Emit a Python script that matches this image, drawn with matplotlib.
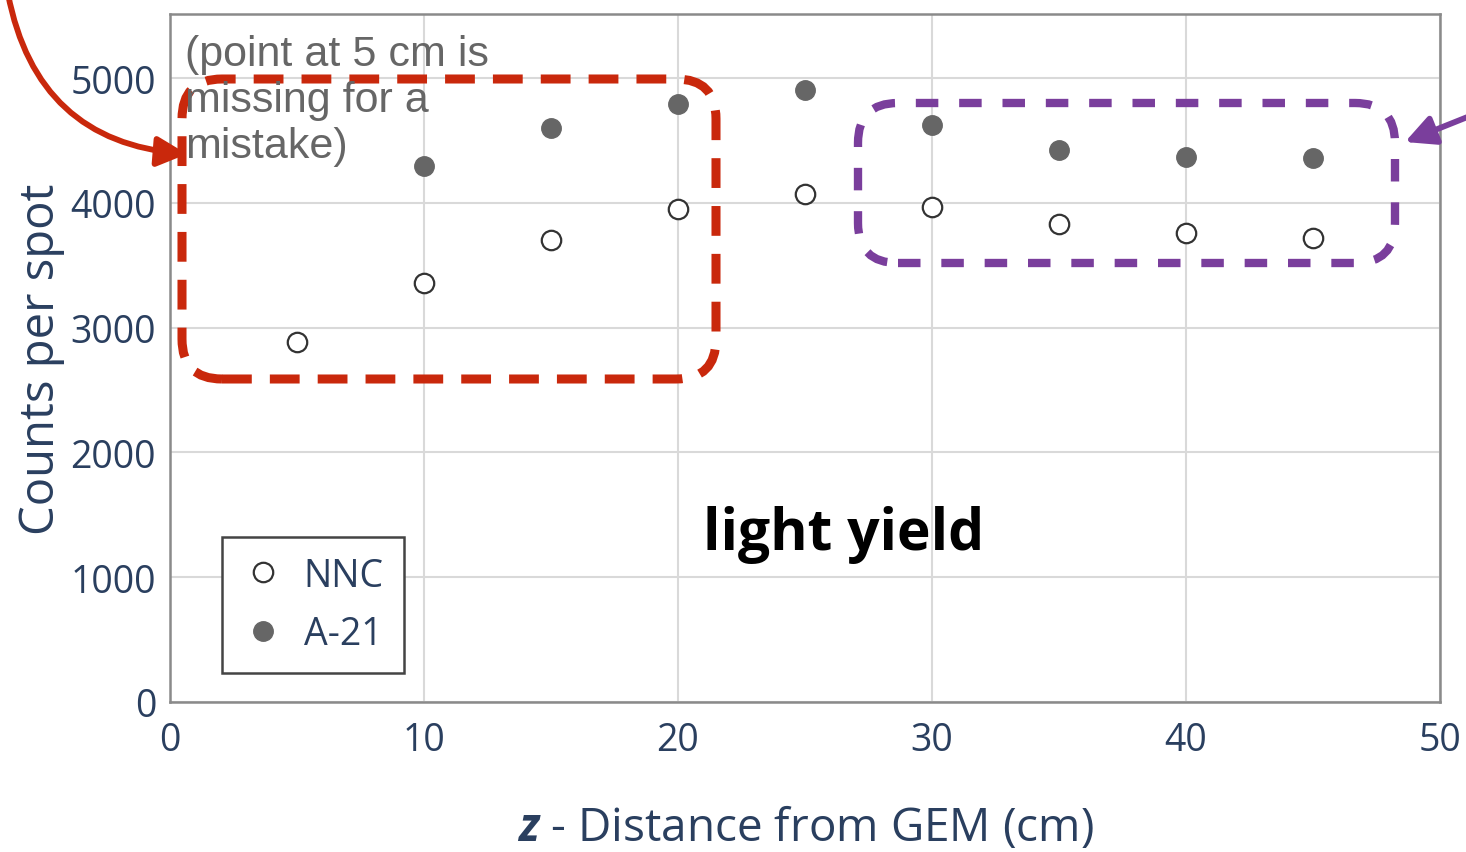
import numpy as np
import matplotlib
matplotlib.use("Agg")
import matplotlib.pyplot as plt
from matplotlib.patches import FancyBboxPatch
from matplotlib.transforms import IdentityTransform

plt.rcParams['font.family'] = ['Open Sans', 'DejaVu Sans']
plt.rcParams['mathtext.fontset'] = 'custom'
plt.rcParams['mathtext.bfit'] = 'Open Sans:italic:bold'
plt.rcParams['mathtext.rm'] = 'Open Sans'

# data
z_nnc = [5, 10, 15, 20, 25, 30, 35, 40, 45]
counts_nnc = [2885, 3357, 3702, 3950, 4071, 3966, 3830, 3758, 3718]
z_a21 = [10, 15, 20, 25, 30, 35, 40, 45]
counts_a21 = [4295, 4599, 4792, 4904, 4623, 4423, 4367, 4359]

xticks = [0, 10, 20, 30, 40, 50]
yticks = [0, 1000, 2000, 3000, 4000, 5000]

txt = '#2a3f5f'
fig = plt.figure(figsize=(14.66, 8.53), dpi=100)
ax = fig.add_axes([170/1466, 1-703/853, 1270/1466, 688/853])
ax.set_xlim(0, 50)
ax.set_ylim(0, 5513)

ax.set_xticks(xticks)
ax.set_yticks(yticks)
ax.grid(True, color='#d9d9d9', lw=1.5)
ax.set_axisbelow(True)
for s in ax.spines.values():
    s.set_color('#8a8a8a')
    s.set_linewidth(1.8)
ax.tick_params(length=0, labelsize=27, labelcolor=txt)
ax.tick_params(axis='x', pad=14)
ax.tick_params(axis='y', pad=10)

ax.plot(z_nnc, counts_nnc, 'o', ms=14, mfc='white', mec='#333333', mew=1.6, label='NNC', zorder=3)
ax.plot(z_a21, counts_a21, 'o', ms=14, mfc='#666666', mec='#666666', label='A-21', zorder=3)

ax.set_xlabel(r'$\mathbfit{z}$ - Distance from GEM (cm)', fontsize=33, color=txt)
ax.xaxis.set_label_coords(0.5, -0.148)
ax.set_ylabel('Counts per spot', fontsize=34, color=txt)
ax.yaxis.set_label_coords(-0.083, 0.5)

leg = ax.legend(loc='lower left', bbox_to_anchor=(0.041, 0.042), fontsize=27,
                fancybox=False, framealpha=1, edgecolor='#444444',
                handletextpad=0.55, borderpad=0.53, labelspacing=0.55,
                handlelength=1.1, borderaxespad=0, labelcolor=txt)
leg.get_frame().set_linewidth(1.8)

ax.text(26.5, 1350, 'light yield', fontsize=41, fontweight='bold', color='black',
        ha='center', va='center', family=['Open Sans', 'DejaVu Sans'])

# dashed rounded boxes, in pixels
H = 853
def box(x0, y0, x1, y1, color, lw, dashes):
    p = FancyBboxPatch((x0, H - y1), x1 - x0, y1 - y0,
                       boxstyle='round,pad=0,rounding_size=40',
                       transform=IdentityTransform(), fill=False,
                       ec=color, lw=lw, linestyle=(0, dashes), zorder=5)
    fig.add_artist(p)

box(182, 80, 716, 380, '#c9280c', 6.5, (3.3, 2.0))
box(858, 104, 1395, 264, '#7a3e9c', 6.0, (2.7, 2.5))

fig.text(185/1466, 1-35/853, '(point at 5 cm is\nmissing for a\nmistake)',
         fontsize=31, color='#666666', ha='left', va='top', linespacing=1.2,
         family=['Liberation Sans', 'DejaVu Sans'], zorder=6)

ax.annotate('', xy=(187, H - 155), xytext=(8, H + 5), xycoords='figure pixels',
            textcoords='figure pixels',
            arrowprops=dict(arrowstyle='-|>', color='#c9280c', lw=4.2,
                            mutation_scale=45, connectionstyle='arc3,rad=0.38',
                            shrinkA=0, shrinkB=0), annotation_clip=False)
ax.annotate('', xy=(1405, H - 143), xytext=(1470, H - 117), xycoords='figure pixels',
            textcoords='figure pixels',
            arrowprops=dict(arrowstyle='-|>', color='#7a3e9c', lw=4.2,
                            mutation_scale=45, shrinkA=0, shrinkB=0),
            annotation_clip=False)

fig.savefig('out.png', dpi=100)
